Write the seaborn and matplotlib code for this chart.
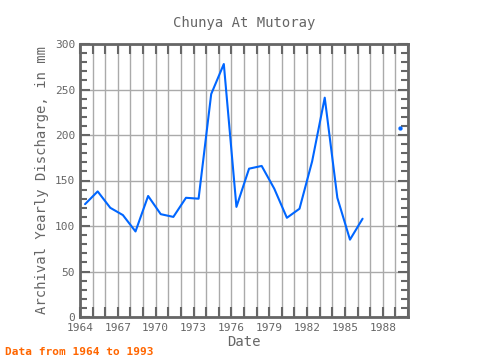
import numpy as np
import pandas as pd
import matplotlib
matplotlib.use("Agg")
import matplotlib.pyplot as plt
from matplotlib.ticker import MultipleLocator
import seaborn as sns

# Yearly discharge (NaN = missing year)
years = [1964, 1965, 1966, 1967, 1968, 1969, 1970, 1971, 1972, 1973, 1974,
         1975, 1976, 1977, 1978, 1979, 1980, 1981, 1982, 1983, 1984, 1985,
         1986, 1987, 1988, 1989]
discharge = [124, 138, 120, 112, 94, 133, 113, 110, 131, 130, 245,
             278, 121, 163, 166, 141, 109, 119, 171, 241, 131, 85,
             108, np.nan, np.nan, 208]
xtick_years = [1964, 1967, 1970, 1973, 1976, 1979, 1982, 1985, 1988]

GRAY = "#666666"
BLUE = "#0066ff"

df = pd.DataFrame({"date": np.array(years) + 0.4, "discharge": discharge})
# break the line at missing years
df["segment"] = df["discharge"].isna().cumsum()
seg_df = df.dropna(subset=["discharge"])

sns.set_style("white")
plt.rcParams["font.family"] = ["DejaVu Sans Mono"]

fig = plt.figure(figsize=(4.8, 3.6), dpi=100)
ax = fig.add_axes([80 / 480, 1 - 317 / 360, 328 / 480, 273 / 360])

sns.lineplot(data=seg_df, x="date", y="discharge", units="segment", estimator=None,
             color=BLUE, linewidth=1.5, ax=ax)
# isolated point (neighbours missing)
iso = df[df["discharge"].notna() & df["discharge"].shift(1).isna() & df["discharge"].shift(-1).isna()]
sns.scatterplot(data=iso, x="date", y="discharge", color=BLUE, s=8, edgecolor=BLUE, ax=ax)

ax.set_xlim(1964, 1990)
ax.set_ylim(0, 300)
ax.set_xticks(xtick_years)
ax.set_xticklabels([str(y) for y in xtick_years])
ax.xaxis.set_minor_locator(MultipleLocator(1))
ax.yaxis.set_major_locator(MultipleLocator(50))
ax.yaxis.set_minor_locator(MultipleLocator(10))
ax.grid(True, which="major", axis="y", color="#aaaaaa", linewidth=1)
ax.grid(True, which="both", axis="x", color="#aaaaaa", linewidth=1)
ax.set_axisbelow(True)

ax.tick_params(which="both", direction="in", top=True, right=True, left=True, bottom=True,
               color=GRAY, labelcolor=GRAY, labelsize=8, width=1.5)
ax.tick_params(which="major", length=7)
ax.tick_params(which="minor", length=5)
ax.tick_params(axis="x", which="both", length=7, pad=4)
for sp in ax.spines.values():
    sp.set_color(GRAY)
    sp.set_linewidth(2)

ax.set_xlabel("Date", color=GRAY, fontsize=10, labelpad=2)
ax.set_ylabel("Archival Yearly Discharge, in mm", color=GRAY, fontsize=10, labelpad=4)
ax.set_title("Chunya At Mutoray", color=GRAY, fontsize=10, pad=12)
fig.text(5 / 480, 1 - 352 / 360, "Data from 1964 to 1993", color="#ff6600",
         fontsize=8, fontweight="bold", va="center", ha="left")

fig.savefig("out.png", dpi=100)
